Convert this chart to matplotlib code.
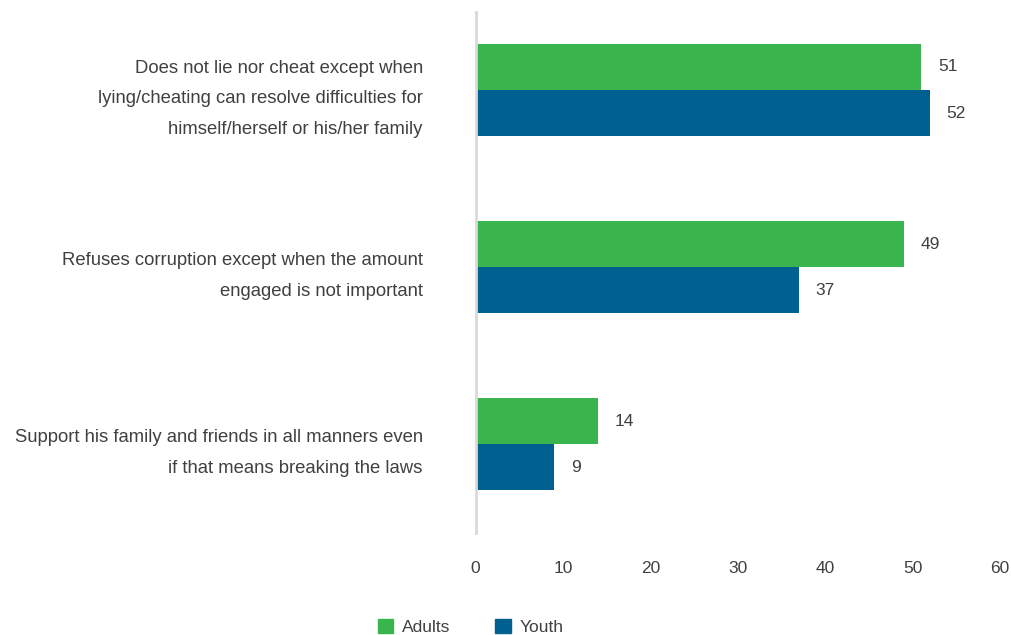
import numpy as np
import matplotlib.pyplot as plt
from matplotlib.patches import Patch

plt.rcParams["font.family"] = ["Liberation Sans", "DejaVu Sans"]

# survey statements and shares (%)
categories = [
    "Does not lie nor cheat except when\nlying/cheating can resolve difficulties for\nhimself/herself or his/her family",
    "Refuses corruption except when the amount\nengaged is not important",
    "Support his family and friends in all manners even\nif that means breaking the laws",
]
adults = [51, 49, 14]
youth = [52, 37, 9]
series_names = ["Adults", "Youth"]

GREEN = "#3ab54d"
BLUE = "#00608f"
TEXT = "#404040"

fig = plt.figure(figsize=(10.12, 6.35), dpi=100)
ax = fig.add_axes([0.470, 0.161, 0.518, 0.820])

y = np.arange(len(categories))
h = 0.26

bars_a = ax.barh(y - h / 2, adults, height=h, color=GREEN)
bars_y = ax.barh(y + h / 2, youth, height=h, color=BLUE)

for bars, vals in ((bars_a, adults), (bars_y, youth)):
    for b, v in zip(bars, vals):
        ax.annotate(f"{v}", (b.get_width(), b.get_y() + b.get_height() / 2),
                    xytext=(12, 0), textcoords="offset points", va="center",
                    ha="left", fontsize=12.5, color=TEXT)

ax.set_xlim(0, 60)
ax.set_ylim(2.5, -0.44)
ax.set_xticks(range(0, 61, 10))
ax.set_yticks(y)
ax.set_yticklabels(categories, ha="right", linespacing=2.05)

ax.tick_params(axis="x", length=0, pad=20, labelsize=12.5, labelcolor=TEXT)
ax.tick_params(axis="y", length=0, pad=38, labelsize=13.3, labelcolor=TEXT)

for s in ["top", "right", "bottom"]:
    ax.spines[s].set_visible(False)
ax.spines["left"].set_color("#d9d9d9")
ax.spines["left"].set_linewidth(2)

handles = [Patch(color=GREEN, label=series_names[0]),
           Patch(color=BLUE, label=series_names[1])]
fig.legend(handles=handles, loc="lower center", bbox_to_anchor=(0.465, -0.025),
           ncol=2, frameon=False, fontsize=12.5, labelcolor=TEXT,
           handlelength=0.9, handleheight=0.9, handletextpad=0.5,
           columnspacing=2.6)

fig.savefig("out.png", dpi=100)
